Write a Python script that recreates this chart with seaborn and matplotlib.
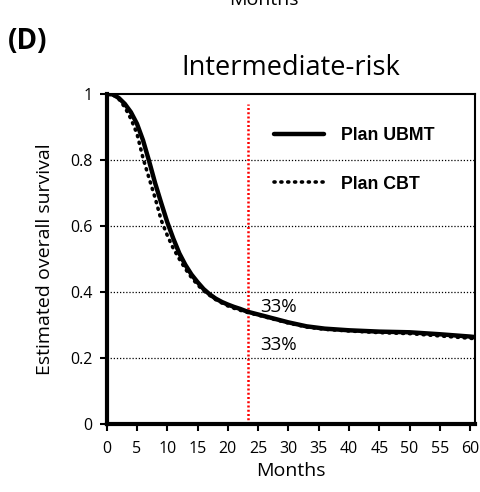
import numpy as np
import pandas as pd
import matplotlib
matplotlib.use('Agg')
import matplotlib.pyplot as plt
import seaborn as sns

# Survival curves
months = [0, 1, 2, 3, 4, 5, 6, 7, 8, 9, 10, 11, 12, 13, 14, 15, 16, 17, 18, 19, 20, 21,
          22, 23.3, 25, 27.5, 30, 33, 36, 40, 45, 50, 55, 60, 61]
ubmt = [1.0, 0.999, 0.988, 0.97, 0.945, 0.91, 0.86, 0.797, 0.73, 0.67, 0.612, 0.562,
        0.517, 0.482, 0.453, 0.43, 0.409, 0.393, 0.38, 0.37, 0.362, 0.355, 0.349, 0.34,
        0.332, 0.32, 0.308, 0.296, 0.289, 0.284, 0.28, 0.278, 0.272, 0.265, 0.263]
cbt = [1.0, 0.998, 0.985, 0.96, 0.925, 0.88, 0.806, 0.745, 0.685, 0.618, 0.572, 0.532,
       0.5, 0.47, 0.444, 0.422, 0.404, 0.39, 0.377, 0.367, 0.358, 0.351, 0.345, 0.338,
       0.33, 0.318, 0.306, 0.294, 0.287, 0.282, 0.277, 0.274, 0.267, 0.26, 0.258]
cut_month = 23.3
labels_33 = ['33%', '33%']
xticks = list(range(0, 61, 5))
yticks = [0, 0.2, 0.4, 0.6, 0.8, 1]
ytick_labels = ['0', '0.2', '0.4', '0.6', '0.8', '1']

df = pd.DataFrame({'Months': months * 2,
                   'Survival': ubmt + cbt,
                   'Plan': ['Plan UBMT'] * len(months) + ['Plan CBT'] * len(months)})

sns.set_style('white')
plt.rcParams['font.family'] = ['Open Sans', 'DejaVu Sans']
plt.rcParams['text.color'] = 'black'
plt.rcParams['axes.labelcolor'] = 'black'
plt.rcParams['xtick.color'] = 'black'
plt.rcParams['ytick.color'] = 'black'

fig = plt.figure(figsize=(4.8, 4.92), dpi=100)
ax = fig.add_axes([0.2222, 0.1382, 0.7674, 0.6707])

for y in [0.2, 0.4, 0.6, 0.8]:
    ax.axhline(y, color='black', lw=0.9, ls=(0, (1, 1.5)), zorder=1)

ax.plot([cut_month, cut_month], [0, 0.97], color='red', lw=1.8, ls=(0, (0.8, 0.9)), zorder=2)

sns.lineplot(data=df[df.Plan == 'Plan UBMT'], x='Months', y='Survival', ax=ax,
             color='black', lw=3.2, label='Plan UBMT', zorder=4)
sns.lineplot(data=df[df.Plan == 'Plan CBT'], x='Months', y='Survival', ax=ax,
             color='black', lw=2.6, ls=(0, (0.3, 1.6)), dash_capstyle='round',
             label='Plan CBT', zorder=3)

ax.set_xlim(0, 60.8)
ax.set_ylim(0, 1)
ax.set_xticks(xticks)
ax.set_yticks(yticks)
ax.set_yticklabels(ytick_labels)
ax.tick_params(axis='both', direction='out', length=5, width=1.5, labelsize=11.5,
               bottom=True, left=True)
ax.tick_params(axis='x', pad=7)
ax.tick_params(axis='y', pad=5)
for side in ['left', 'bottom']:
    ax.spines[side].set_linewidth(3)
for side in ['top', 'right']:
    ax.spines[side].set_linewidth(1.5)
for s in ax.spines.values():
    s.set_color('black')

ax.set_xlabel('Months', fontsize=14, labelpad=4)
ax.set_ylabel('Estimated overall survival', fontsize=14, labelpad=12)
ax.set_title('Intermediate-risk', fontsize=19.5, pad=14)

ax.text(cut_month + 2.0, 0.355, labels_33[0], fontsize=13.5, va='center')
ax.text(cut_month + 2.0, 0.24, labels_33[1], fontsize=13.5, va='center')

leg = ax.legend(loc='upper left', bbox_to_anchor=(0.44, 0.915), frameon=False,
                handlelength=2.8, labelspacing=1.75, handletextpad=0.95,
                borderaxespad=0, borderpad=0.3,
                prop={'family': 'Liberation Sans', 'weight': 'bold', 'size': 12.8})

fig.text(0.017, 0.915, '(D)', fontsize=20, fontweight='bold', va='center')
fig.text(0.55, 1.0, 'Months', fontsize=14, ha='center', va='center')

fig.savefig('out.png', dpi=100)
